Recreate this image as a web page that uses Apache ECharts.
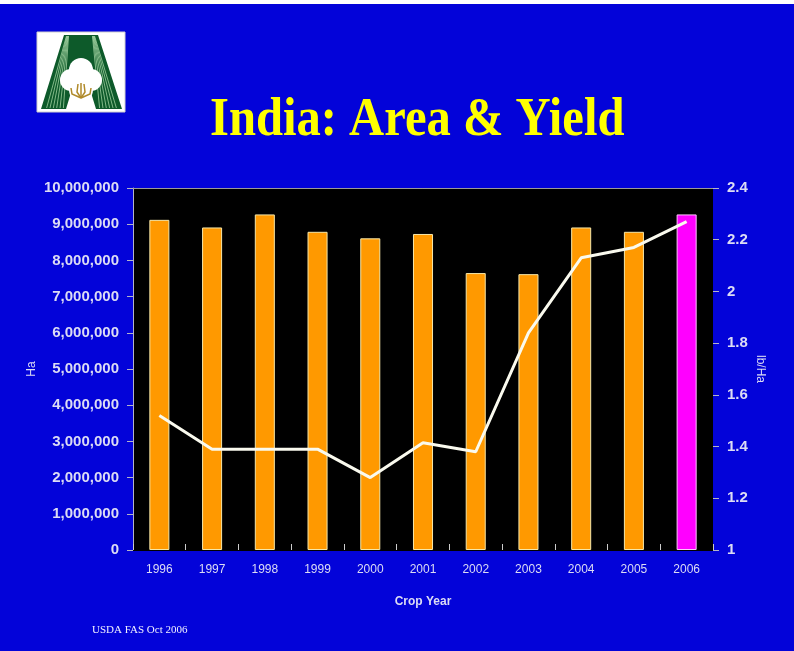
<!DOCTYPE html>
<html>
<head>
<meta charset="utf-8">
<script src="https://cdn.jsdelivr.net/npm/echarts@6/dist/echarts.min.js"></script>
<style>html,body{margin:0;padding:0;}#c{width:794px;height:651px;}</style>
</head>
<body>
<div id="c"></div>
<script>
const years = ['1996','1997','1998','1999','2000','2001','2002','2003','2004','2005','2006'];
const areaHa = [9120000, 8910000, 9270000, 8790000, 8610000, 8730000, 7650000, 7620000, 8910000, 8790000, 9270000];
const yieldLbHa = [1.52, 1.39, 1.39, 1.39, 1.28, 1.415, 1.38, 1.84, 2.13, 2.17, 2.27];
const highlightYear = '2006';
const titleText = 'India: Area & Yield';
const sourceText = 'USDA FAS Oct 2006';

const chart = echarts.init(document.getElementById('c'));
const labelColor = '#dcdcf4';
const sans = 'Liberation Sans, Arial, sans-serif';

const barData = areaHa.map((v, i) => years[i] === highlightYear
  ? {value: v, itemStyle: {color: '#FF00FF', borderColor: '#FFC8FF'}}
  : v);

// logo stripes
const stripes = [];
for (let k = 0; k < 6; k++) {
  const t = 0.15 + k * 0.14;
  stripes.push({type: 'line', shape: {x1: 29 + t * 3, y1: 4, x2: 6 + t * 24, y2: 76}, style: {stroke: '#9fd0a0', lineWidth: 0.8}});
  stripes.push({type: 'line', shape: {x1: 58 - t * 3, y1: 4, x2: 83 - t * 24, y2: 76}, style: {stroke: '#9fd0a0', lineWidth: 0.8}});
}

chart.setOption({
  animation: false,
  backgroundColor: '#0303D9',
  graphic: [
    {type: 'rect', shape: {x: 0, y: 0, width: 794, height: 4}, style: {fill: '#ffffff'}},
    {type: 'group', x: 37, y: 32, children: [
      {type: 'rect', shape: {x: 0, y: 0, width: 88, height: 80}, style: {fill: '#ffffff', stroke: '#cfcfcf', lineWidth: 1}},
      {type: 'polygon', shape: {points: [[27,3],[61,3],[85,77],[59,77],[44,28],[29,77],[4,77]]}, style: {fill: '#0d5a2a'}},
    ].concat(stripes).concat([
      {type: 'circle', shape: {cx: 44, cy: 38, r: 12}, style: {fill: '#ffffff'}},
      {type: 'circle', shape: {cx: 34, cy: 48, r: 11}, style: {fill: '#ffffff'}},
      {type: 'circle', shape: {cx: 54, cy: 48, r: 11}, style: {fill: '#ffffff'}},
      {type: 'circle', shape: {cx: 44, cy: 58, r: 12}, style: {fill: '#ffffff'}},
      {type: 'rect', shape: {x: 38, y: 66, width: 12, height: 11}, style: {fill: '#ffffff'}},
      {type: 'polyline', shape: {points: [[44,66],[40,60],[41,52]]}, style: {stroke: '#b08a2a', lineWidth: 1.5, fill: null}},
      {type: 'polyline', shape: {points: [[44,66],[48,60],[47,52]]}, style: {stroke: '#b08a2a', lineWidth: 1.5, fill: null}},
      {type: 'polyline', shape: {points: [[44,66],[35,62],[34,56]]}, style: {stroke: '#b08a2a', lineWidth: 1.5, fill: null}},
      {type: 'polyline', shape: {points: [[44,66],[53,62],[54,56]]}, style: {stroke: '#b08a2a', lineWidth: 1.5, fill: null}},
      {type: 'polyline', shape: {points: [[44,66],[44,58],[44,51]]}, style: {stroke: '#b08a2a', lineWidth: 1.5, fill: null}}
    ])},
    {type: 'text', x: 210, y: 94, scaleX: 0.9, style: {text: titleText, fill: '#FFFF00', font: 'bold 54px "Liberation Serif", "Times New Roman", serif'}},
    {type: 'text', left: 92, top: 625, style: {text: sourceText, fill: '#f0f0ff', font: '11px "Liberation Serif", "Times New Roman", serif'}}
  ],
  grid: {left: 133, right: 81, top: 188, bottom: 101, show: true, backgroundColor: '#000000', borderWidth: 0},
  xAxis: [{
    type: 'category', data: years,
    name: 'Crop Year', nameLocation: 'middle', nameGap: 46,
    nameTextStyle: {color: labelColor, fontFamily: sans, fontWeight: 'bold', fontSize: 12},
    axisLine: {show: true, lineStyle: {color: '#000000'}},
    axisTick: {show: true, inside: true, length: 6, lineStyle: {color: '#cccccc'}},
    axisLabel: {color: labelColor, fontFamily: sans, fontSize: 12, margin: 14}
  }, {
    type: 'category', data: years, position: 'top',
    axisLine: {show: true, lineStyle: {color: '#9a9a9a'}},
    axisTick: {show: false}, axisLabel: {show: false}
  }],
  yAxis: [{
    type: 'value', min: 0, max: 10000000, interval: 1000000,
    name: 'Ha', nameLocation: 'middle', nameRotate: 90, nameGap: 95, nameMoveOverlap: false,
    nameTextStyle: {color: labelColor, fontFamily: sans, fontSize: 12},
    axisLine: {show: true, lineStyle: {color: '#b4b4c8'}},
    axisTick: {show: true, length: 6, lineStyle: {color: '#b4b4c8'}},
    splitLine: {show: false},
    axisLabel: {color: labelColor, fontFamily: sans, fontWeight: 'bold', fontSize: 15, margin: 14,
      formatter: v => v.toLocaleString('en-US')}
  }, {
    type: 'value', min: 1, max: 2.4, interval: 0.2,
    name: 'lb/Ha', nameLocation: 'middle', nameRotate: -90, nameGap: 41, nameMoveOverlap: false,
    nameTextStyle: {color: labelColor, fontFamily: sans, fontSize: 12},
    axisLine: {show: false},
    axisTick: {show: true, length: 6, lineStyle: {color: '#b4b4c8'}},
    splitLine: {show: false},
    axisLabel: {color: labelColor, fontFamily: sans, fontWeight: 'bold', fontSize: 15, margin: 14,
      formatter: v => String(Math.round(v * 10) / 10)}
  }],
  series: [{
    type: 'bar', name: 'Area', data: barData, barWidth: '38%',
    itemStyle: {color: '#FF9900', borderColor: '#F6E7A8', borderWidth: 1}
  }, {
    type: 'line', name: 'Yield', yAxisIndex: 1, data: yieldLbHa,
    showSymbol: false, symbol: 'none',
    lineStyle: {color: '#FAFAEE', width: 3}
  }]
});
</script>
</body>
</html>
